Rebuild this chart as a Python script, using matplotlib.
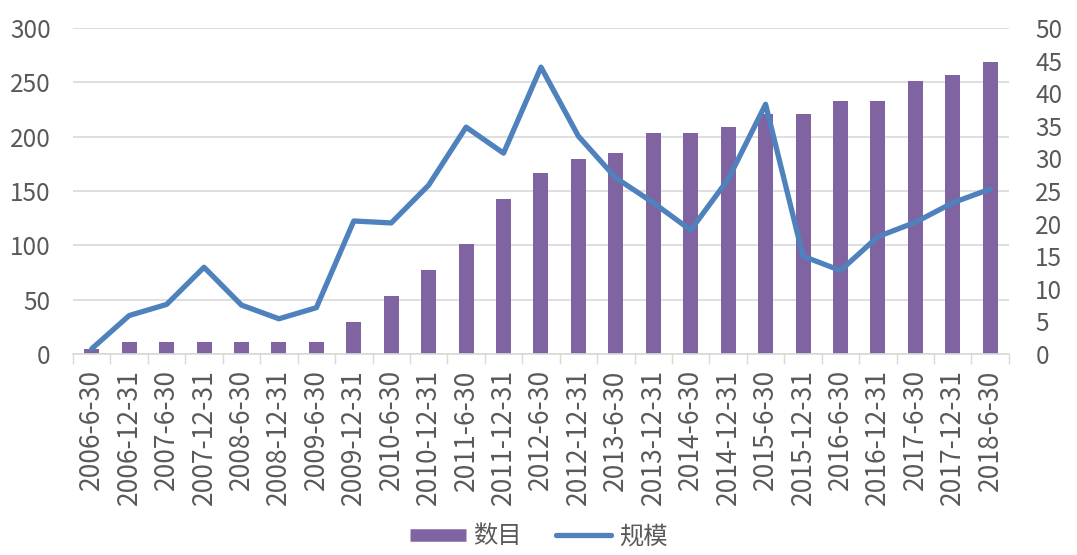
import numpy as np
import matplotlib.pyplot as plt
from matplotlib.lines import Line2D

plt.rcParams['font.family'] = ['Noto Sans CJK SC', 'DejaVu Sans']

# fechas de corte
fechas = ['2006-6-30', '2006-12-31', '2007-6-30', '2007-12-31', '2008-6-30',
          '2008-12-31', '2009-6-30', '2009-12-31', '2010-6-30', '2010-12-31',
          '2011-6-30', '2011-12-31', '2012-6-30', '2012-12-31', '2013-6-30',
          '2013-12-31', '2014-6-30', '2014-12-31', '2015-6-30', '2015-12-31',
          '2016-6-30', '2016-12-31', '2017-6-30', '2017-12-31', '2018-6-30']

# 数目 (eje izquierdo)
numero = [5, 11, 11, 11, 11, 11, 11, 29, 53, 77, 101, 143, 167, 179, 185,
          203, 203, 209, 221, 221, 233, 233, 251, 257, 269]

# 规模 (eje derecho)
escala = [0.8, 5.9, 7.6, 13.3, 7.5, 5.4, 7.1, 20.4, 20.1, 25.9, 34.8, 30.8,
          44.0, 33.4, 27.0, 23.2, 19.0, 26.8, 38.3, 15.0, 12.8, 18.0, 20.2,
          23.2, 25.3]

izq_ticks = [0, 50, 100, 150, 200, 250, 300]
der_ticks = [0, 5, 10, 15, 20, 25, 30, 35, 40, 45, 50]

morado = '#8064a2'
azul = '#4f81bd'
gris = '#595959'
gris_claro = '#d9d9d9'
fs = 17.5

fig = plt.figure(figsize=(10.77, 5.55), dpi=100)
ax = fig.add_axes([0.0678, 0.3622, 0.869, 0.5873])
x = np.arange(len(fechas))

ax.bar(x, numero, width=0.4, color=morado, zorder=2)
ax.set_ylim(0, 300)
ax.set_yticks(izq_ticks)
ax.set_xlim(-0.5, len(fechas) - 0.5)
ax.set_xticks(x)
ax.set_xticklabels(fechas, rotation=90)
ax.set_xticks(np.arange(len(fechas) + 1) - 0.5, minor=True)
ax.tick_params(axis='x', which='major', length=0, pad=11, labelsize=19, labelcolor=gris)
ax.tick_params(axis='x', which='minor', length=7, width=1, color=gris_claro)
ax.tick_params(axis='y', length=0, pad=16, labelsize=fs, labelcolor=gris)
ax.grid(axis='y', color=gris_claro, linewidth=1.2, zorder=0)
ax.set_axisbelow(True)
for lado in ['top', 'left', 'right']:
    ax.spines[lado].set_visible(False)
ax.spines['bottom'].set_color(gris_claro)
ax.spines['bottom'].set_linewidth(1.2)

ax2 = ax.twinx()
ax2.plot(x, escala, color=azul, linewidth=3.8, solid_capstyle='round', solid_joinstyle='round', zorder=3)
ax2.set_ylim(0, 50)
ax2.set_yticks(der_ticks)
ax2.tick_params(axis='y', length=0, pad=19, labelsize=fs, labelcolor=gris)
for lado in ['top', 'left', 'right', 'bottom']:
    ax2.spines[lado].set_visible(False)

handles = [Line2D([0], [0], color=morado, linewidth=9, solid_capstyle='butt'),
           Line2D([0], [0], color=azul, linewidth=3.8, solid_capstyle='round')]
fig.legend(handles, ['数目', '规模'], loc='center', bbox_to_anchor=(0.5, 0.034),
           ncol=2, frameon=False, fontsize=fs, labelcolor=gris,
           handlelength=2.3, handletextpad=0.3, columnspacing=1.4)

fig.savefig('out.png', dpi=100)
